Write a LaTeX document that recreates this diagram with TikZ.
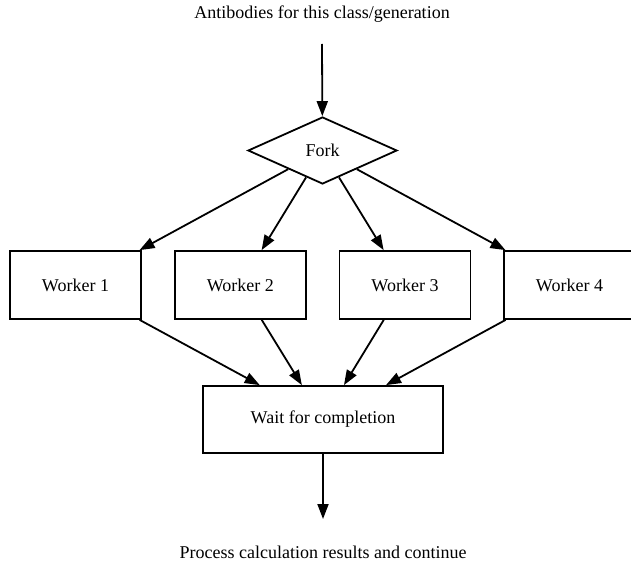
\documentclass[tikz,border=0pt]{standalone}
\usepackage{fontspec}
\setmainfont{Liberation Serif}
\usetikzlibrary{shapes.geometric,arrows.meta}
\begin{document}
\begin{tikzpicture}[x=1pt,y=-1pt,
  font=\fontsize{18}{21}\selectfont,
  line width=1.8pt,
  box/.style={draw,rectangle,minimum width=131pt,minimum height=68pt,inner sep=0pt},
  forkshape/.style={draw,diamond,minimum width=149pt,minimum height=67pt,inner sep=0pt},
  conn/.style={-{Triangle[length=15pt,width=11pt]}},
  label/.style={inner sep=0pt}]
\clip (0,0) rectangle (631,564);
\node[label] (src) at (322,14) {Antibodies for this class/generation};
\coordinate (start) at (322,44);
\node[forkshape] (fork) at (322.5,150.5) {Fork};
\node[box] (w1) at (75.5,285) {Worker 1};
\node[box] (w2) at (240.3,285) {Worker 2};
\node[box] (w3) at (405,285) {Worker 3};
\node[box] (w4) at (569.5,285) {Worker 4};
\node[box,minimum width=240pt,minimum height=67pt] (wait) at (323,419.5) {Wait for completion};
\coordinate (end) at (323,519);
\node[label] (dst) at (323,552) {Process calculation results and continue};
\draw[conn] (start) -- (fork);
\foreach \w in {w1,w2,w3,w4}{
  \draw[conn] (fork) -- (\w);
  \draw[conn] (\w) -- (wait);
}
\draw[conn] (wait) -- (end);
\end{tikzpicture}
\end{document}
